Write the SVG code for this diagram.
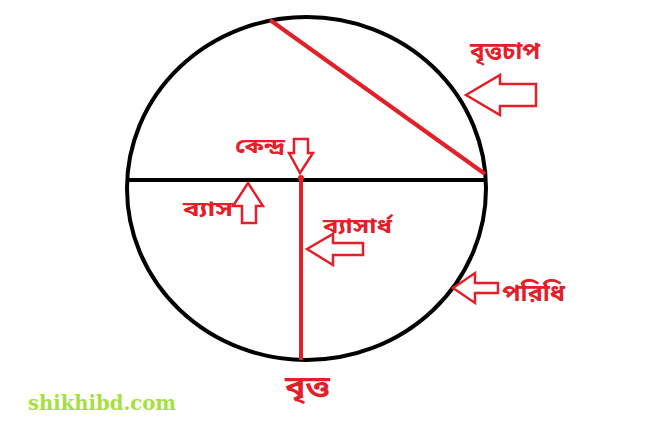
<svg xmlns="http://www.w3.org/2000/svg" width="658" height="436" viewBox="0 0 658 436">
<style>
.arr{fill:#fff;stroke:#e3202a;stroke-width:2.5;stroke-linejoin:miter}
.lbl{fill:#e3202a;font-family:"Noto Sans Bengali","Noto Sans","Noto Serif Bengali",sans-serif;font-weight:bold}
</style>
<rect width="658" height="436" fill="#fff"/>
<g id="circle">
<ellipse cx="306.5" cy="188.5" rx="179.5" ry="171.5" fill="none" stroke="#000" stroke-width="4"/>
</g>
<g id="connectors">
<line x1="126" y1="180" x2="487" y2="180" stroke="#000" stroke-width="4"/>
<line x1="270" y1="20" x2="485" y2="174" stroke="#e3202a" stroke-width="4"/>
<line x1="301" y1="178" x2="301" y2="360" stroke="#e3202a" stroke-width="4"/>
<circle cx="301" cy="178" r="3" fill="#e3202a"/>
</g>
<g id="arc-label">
<polygon class="arr" points="466,95 500,75 500,84 536,84 536,106 500,106 500,115"/>
<text class="lbl" x="470" y="59" font-size="23" textLength="70" lengthAdjust="spacingAndGlyphs">বৃত্তচাপ</text>
</g>
<g id="center-label">
<polygon class="arr" points="294,139 308,139 308,153 313,153 300,173 289,153 294,153"/>
<text class="lbl" x="235" y="153" font-size="21" textLength="50" lengthAdjust="spacingAndGlyphs">কেন্দ্র</text>
</g>
<g id="diameter-label">
<polygon class="arr" points="248,183 263,206 256,206 256,223 242,223 242,206 233,206"/>
<text class="lbl" x="183" y="216" font-size="21" textLength="50" lengthAdjust="spacingAndGlyphs">ব্যাস</text>
</g>
<g id="radius-label">
<polygon class="arr" points="307,249 333,234 333,243 363,243 363,255 333,255 333,265"/>
<text class="lbl" x="323" y="233" font-size="21" textLength="69" lengthAdjust="spacingAndGlyphs">ব্যাসার্ধ</text>
</g>
<g id="circumference-label">
<polygon class="arr" points="453,288 475,273 475,283 498,283 498,293 475,293 475,303"/>
<text class="lbl" x="502" y="301" font-size="23" textLength="63" lengthAdjust="spacingAndGlyphs">পরিধি</text>
</g>
<g id="circle-label">
<text class="lbl" x="285" y="396" font-size="28" textLength="45" lengthAdjust="spacingAndGlyphs">বৃত্ত</text>
</g>
<g id="watermark">
<text x="28" y="410" font-family="'DejaVu Serif',serif" font-weight="bold" font-size="20" fill="#a6e040" textLength="148" lengthAdjust="spacingAndGlyphs">shikhibd.com</text>
</g>
</svg>
